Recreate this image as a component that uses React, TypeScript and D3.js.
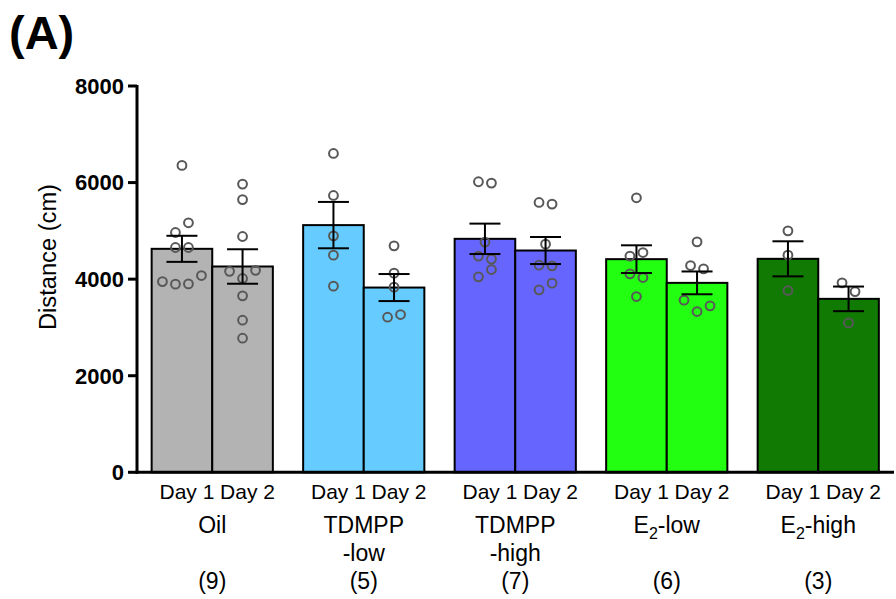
import React from "react";
import * as d3 from "d3";

const groups = ["Oil", "TDMPP-low", "TDMPP-high", "E2-low", "E2-high"];
const groupLine1 = ["Oil", "TDMPP", "TDMPP", "E", "E"];
const groupSub = ["", "", "", "2", "2"];
const groupRest = ["", "", "", "-low", "-high"];
const groupLine2 = ["", "-low", "-high", "", ""];
const groupN = ["(9)", "(5)", "(7)", "(6)", "(3)"];
const days = ["Day 1", "Day 2"];
const colors = ["#b3b3b3", "#66ccff", "#6666ff", "#22ff11", "#117a02"];

const day1Mean = [4628, 5119, 4835, 4414, 4421];
const day2Mean = [4262, 3826, 4593, 3923, 3592];
const day1Sem = [270, 480, 315, 287, 363];
const day2Sem = [357, 280, 280, 236, 255];

const day1Points = [
  [6355, 4966, 5167, 4655, 4655, 3950, 3896, 3902, 4075],
  [6603, 5733, 4897, 4497, 3855],
  [6017, 5990, 4767, 4477, 4415, 4048, 4199],
  [5685, 4477, 4551, 4110, 4033, 3640],
  [5001, 4497, 3764],
];
const day2Points = [
  [5969, 5648, 4883, 4162, 4013, 4183, 3654, 3150, 2777],
  [4690, 4124, 3834, 3212, 3267],
  [5588, 5554, 4725, 4290, 4276, 3778, 3917],
  [4773, 4282, 4214, 3565, 3329, 3447],
  [3923, 3743, 3094],
];
const yTicks = [0, 2000, 4000, 6000, 8000];

const W = 896;
const H = 599;
const axisX = 137;
const axisRight = 894;
const y0 = 472.3;
const yTop = 86;

function swarm(values: number[], y: (v: number) => number, step: number, thr: number) {
  const idx = values.map((_, i) => i).sort((a, b) => y(values[a]) - y(values[b]));
  const rows: number[][] = [];
  let cur: number[] = [];
  idx.forEach((i, k) => {
    if (k > 0 && y(values[i]) - y(values[idx[k - 1]]) >= thr) {
      rows.push(cur);
      cur = [];
    }
    cur.push(i);
  });
  if (cur.length) rows.push(cur);
  const off = new Array(values.length).fill(0);
  rows.forEach((r) => {
    const s = [...r].sort((a, b) => a - b);
    s.forEach((i, j) => {
      off[i] = (j - (s.length - 1) / 2) * step;
    });
  });
  return off;
}

export default function App() {
  const x = d3
    .scaleBand<string>()
    .domain(groups)
    .range([axisX - 0.5, axisRight])
    .paddingInner(0.2)
    .paddingOuter(0.1);
  const xd = d3.scaleBand<string>().domain(days).range([0, x.bandwidth()]);
  const y = d3.scaleLinear().domain([0, 8000]).range([y0, yTop]);
  const font = "Liberation Sans, Arial, Helvetica, sans-serif";

  const bars: any[] = [];
  groups.forEach((g, gi) => {
    [0, 1].forEach((di) => {
      const mean = di === 0 ? day1Mean[gi] : day2Mean[gi];
      const sem = di === 0 ? day1Sem[gi] : day2Sem[gi];
      const pts = di === 0 ? day1Points[gi] : day2Points[gi];
      const bx = (x(g) as number) + (xd(days[di]) as number);
      const bw = xd.bandwidth();
      const cx = bx + bw / 2;
      bars.push({ g, gi, di, mean, sem, pts, bx, bw, cx });
    });
  });

  return (
    <svg
      width={W}
      height={H}
      style={{ position: "absolute", left: 0, top: 0, background: "#fff" }}
      fontFamily={font}
    >
      <text x={9} y={49} fontSize={47} fontWeight="bold" fill="#000">
        (A)
      </text>

      {bars.map((b, i) => (
        <rect
          key={"bar" + i}
          x={b.bx}
          y={y(b.mean)}
          width={b.bw}
          height={y(0) - y(b.mean)}
          fill={colors[b.gi]}
          stroke="#000"
          strokeWidth={2}
        />
      ))}

      {bars.map((b, i) => {
        const offs = swarm(b.pts, y, 13, 10);
        return (
          <g key={"pts" + i}>
            {b.pts.map((v: number, j: number) => (
              <circle
                key={j}
                cx={b.cx + offs[j]}
                cy={y(v)}
                r={4.4}
                fill="none"
                stroke="#585858"
                strokeWidth={2}
              />
            ))}
          </g>
        );
      })}

      {bars.map((b, i) => {
        const hi = y(b.mean + b.sem);
        const lo = y(b.mean - b.sem);
        const cw = 15.5;
        return (
          <g key={"err" + i} stroke="#000" strokeWidth={2}>
            <line x1={b.cx} x2={b.cx} y1={hi} y2={lo} />
            <line x1={b.cx - cw} x2={b.cx + cw} y1={hi} y2={hi} />
            <line x1={b.cx - cw} x2={b.cx + cw} y1={lo} y2={lo} />
          </g>
        );
      })}

      {/* axes */}
      <line x1={axisX} x2={axisX} y1={yTop - 1} y2={y0 + 1.5} stroke="#000" strokeWidth={3} />
      <line x1={axisX - 1.5} x2={axisRight} y1={y0} y2={y0} stroke="#000" strokeWidth={3} />
      {yTicks.map((t) => (
        <g key={"t" + t}>
          <line x1={axisX - 9} x2={axisX} y1={y(t)} y2={y(t)} stroke="#000" strokeWidth={3} />
          <text
            x={axisX - 13}
            y={y(t)}
            dy="0.36em"
            textAnchor="end"
            fontSize={22}
            fontWeight="bold"
            fill="#000"
          >
            {t}
          </text>
        </g>
      ))}

      <text
        transform={`translate(56,257) rotate(-90)`}
        textAnchor="middle"
        fontSize={23}
        textLength={146}
        lengthAdjust="spacingAndGlyphs"
        fill="#000"
      >
        Distance (cm)
      </text>

      {bars.map((b, i) => (
        <text key={"d" + i} x={b.cx + 5} y={499} textAnchor="middle" fontSize={21} fill="#000">
          {days[b.di]}
        </text>
      ))}

      {groups.map((g, gi) => {
        const cx = (x(g) as number) + x.bandwidth() / 2;
        return (
          <g key={"gl" + g} fontSize={23} fill="#000" textAnchor="middle">
            <text x={cx} y={533}>
              {groupLine1[gi]}
              {groupSub[gi] ? (
                <tspan fontSize={16} dy={6}>
                  {groupSub[gi]}
                </tspan>
              ) : null}
              {groupRest[gi] ? <tspan dy={-6}>{groupRest[gi]}</tspan> : null}
            </text>
            {groupLine2[gi] ? (
              <text x={cx} y={561}>
                {groupLine2[gi]}
              </text>
            ) : null}
            <text x={cx} y={589}>
              {groupN[gi]}
            </text>
          </g>
        );
      })}
    </svg>
  );
}
